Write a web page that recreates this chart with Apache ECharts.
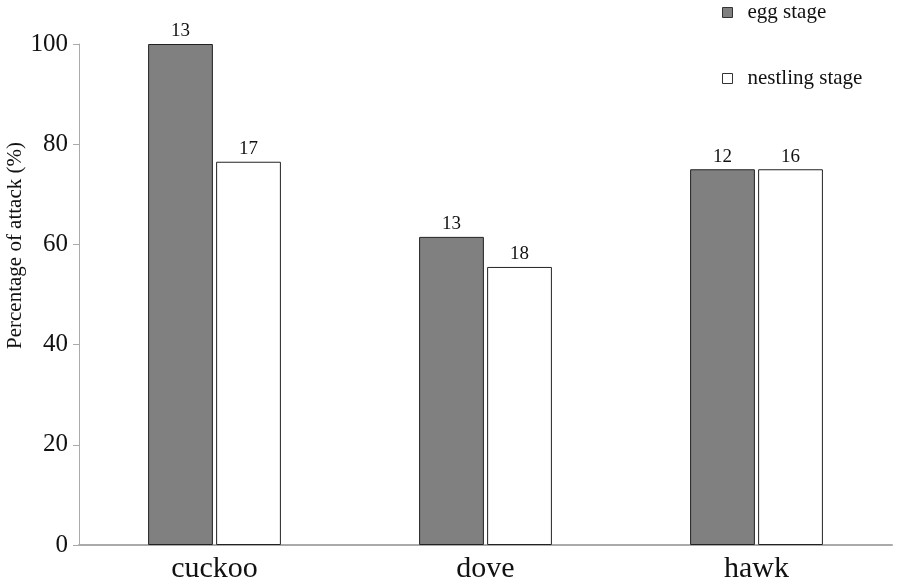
<!DOCTYPE html>
<html>
<head>
<meta charset="utf-8">
<script src="https://cdn.jsdelivr.net/npm/echarts@6/dist/echarts.min.js"></script>
<style>
  html, body { margin: 0; padding: 0; background: #fff; }
  #chart { width: 898px; height: 584px; }
</style>
</head>
<body>
<div id="chart"></div>
<script>
// data
const categories = ['cuckoo', 'dove', 'hawk']
const eggValues = [100, 61.5, 75]
const nestlingValues = [76.5, 55.5, 75]
const eggN = [13, 13, 12]
const nestlingN = [17, 18, 16]

const serif = '"Liberation Serif", "DejaVu Serif", serif'

let myChart = echarts.init(document.getElementById('chart'))

function nLabel(counts) {
  return {
    show: true,
    position: 'top',
    distance: 3,
    color: '#111',
    fontFamily: serif,
    fontSize: 19,
    formatter: p => counts[p.dataIndex]
  }
}

myChart.setOption({
  animation: false,
  grid: { left: 79, right: 6, top: 44, bottom: 39, outerBoundsMode: 'none', containLabel: false },
  legend: {
    orient: 'vertical',
    left: 717,
    top: -3,
    icon: 'rect',
    itemWidth: 10,
    itemHeight: 10,
    itemGap: 45,
    textStyle: { fontFamily: serif, fontSize: 21, color: '#111', padding: [0, 0, 0, 10] },
    itemStyle: { borderColor: '#333', borderWidth: 1 },
    data: ['egg stage', 'nestling stage']
  },
  xAxis: {
    type: 'category',
    data: categories,
    axisLine: { lineStyle: { color: '#aaa', width: 2 } },
    axisTick: { show: false },
    axisLabel: { fontFamily: serif, fontSize: 30, color: '#111', margin: 9 }
  },
  yAxis: {
    type: 'value',
    min: 0,
    max: 100,
    interval: 20,
    name: 'Percentage of attack (%)',
    nameLocation: 'middle',
    nameGap: 53,
    nameMoveOverlap: false,
    nameTextStyle: { fontFamily: serif, fontSize: 21, color: '#111', padding: [0, 0, 0, 98] },
    splitLine: { show: false },
    axisLine: { show: true, lineStyle: { color: '#aaa', width: 1 } },
    axisTick: { show: true, length: 6, lineStyle: { color: '#aaa' } },
    axisLabel: { fontFamily: serif, fontSize: 25, color: '#111', margin: 11 }
  },
  series: [
    {
      name: 'egg stage',
      type: 'bar',
      data: eggValues,
      barGap: '5%',
      barCategoryGap: '51%',
      itemStyle: { color: '#808080', borderColor: '#222', borderWidth: 1 },
      label: nLabel(eggN)
    },
    {
      name: 'nestling stage',
      type: 'bar',
      data: nestlingValues,
      itemStyle: { color: '#ffffff', borderColor: '#222', borderWidth: 1 },
      label: nLabel(nestlingN)
    }
  ]
})
</script>
</body>
</html>
